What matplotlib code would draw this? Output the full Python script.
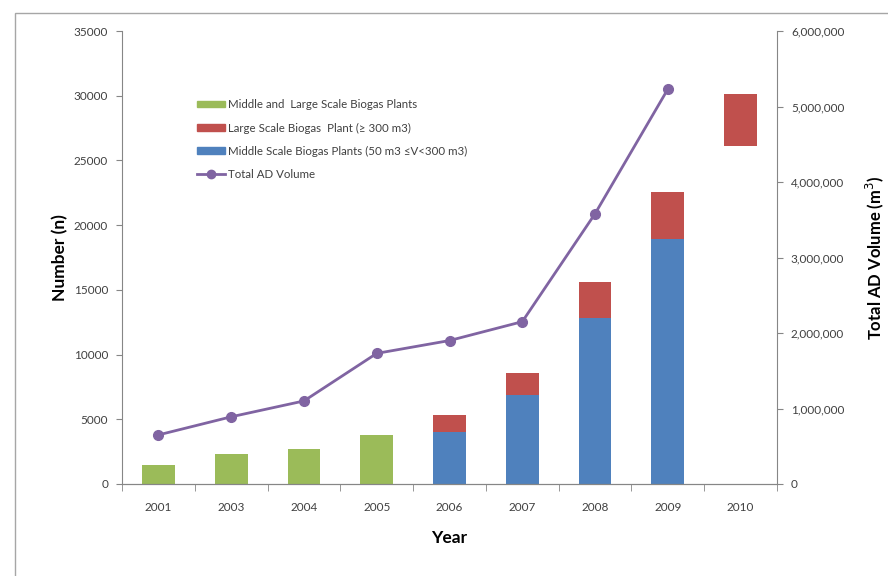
import numpy as np
import matplotlib
matplotlib.use("Agg")
import matplotlib.pyplot as plt
from matplotlib.ticker import FuncFormatter, FixedLocator
from matplotlib.patches import Rectangle
from matplotlib.lines import Line2D

plt.rcParams['font.family'] = ['Lato', 'DejaVu Sans']

years = ["2001", "2003", "2004", "2005", "2006", "2007", "2008", "2009", "2010"]
mid_large = [1490, 2350, 2680, 3750, 0, 0, 0, 0, 0]
middle = [0, 0, 0, 0, 4050, 6880, 12850, 18930, 0]
large = [0, 0, 0, 0, 1250, 1680, 2780, 3630, 4020]
base_2010 = [0, 0, 0, 0, 0, 0, 0, 0, 26120]  # hidden base under the 2010 bar
volume = [650000, 890000, 1100000, 1730000, 1900000, 2150000, 3580000, 5230000, np.nan]

green = "#9BBB59"
red = "#C0504D"
blue = "#4F81BD"
purple = "#8064A2"
grey = "#868686"
txt = "#404040"

fig = plt.figure(figsize=(8.88, 5.76), dpi=100)
fig.patches.append(Rectangle((15 / 888, -0.1), 2, 1 - 13 / 576 + 0.1, transform=fig.transFigure,
                             fill=False, edgecolor="#a6a6a6", linewidth=1.0))
ax = fig.add_axes([122 / 888, 1 - 484 / 576, 655 / 888, 453 / 576])
ax2 = ax.twinx()

x = np.arange(len(years))
w = 0.45
bottom_mid = np.array(base_2010)
ax.bar(x, mid_large, w, color=green, zorder=2)
ax.bar(x, middle, w, color=blue, zorder=2)
ax.bar(x, large, w, bottom=np.array(middle) + bottom_mid, color=red, zorder=2)

ax2.plot(x, volume, color=purple, lw=2, marker="o", ms=7, zorder=3)
ax.set_zorder(ax2.get_zorder() - 1)
ax.patch.set_visible(False)
ax2.patch.set_visible(False)

ax.set_xlim(-0.5, len(years) - 0.5)
ax.set_ylim(0, 35000)
ax2.set_ylim(0, 6000000)
ax.set_yticks(np.arange(0, 35001, 5000))
ax2.set_yticks(np.arange(0, 6000001, 1000000))
ax2.yaxis.set_major_formatter(FuncFormatter(lambda v, p: f"{int(v):,}"))

ax.set_xticks(x)
ax.set_xticklabels(years)
ax.xaxis.set_minor_locator(FixedLocator(np.arange(-0.5, len(years), 1.0)))
ax.tick_params(axis="x", which="major", length=0, pad=13, labelsize=8.5, labelcolor=txt)
ax.tick_params(axis="x", which="minor", length=5, color=grey, direction="out")
ax.tick_params(axis="y", length=4, color=grey, labelsize=8.5, labelcolor=txt, pad=6)
ax2.tick_params(axis="y", length=4, color=grey, labelsize=8.5, labelcolor=txt, pad=6)

for a in (ax, ax2):
    a.spines["top"].set_visible(False)
    for s in ("left", "right", "bottom"):
        a.spines[s].set_color(grey)
ax.spines["right"].set_visible(False)
ax2.spines["left"].set_visible(False)

ax.set_xlabel("Year", fontsize=12.5, fontweight="bold", color="black", labelpad=12)
ax.set_ylabel("Number (n)", fontsize=12.5, fontweight="bold", color="black", labelpad=4)
ax2.set_ylabel("Total AD Volume (m$^3$)", fontsize=12, fontweight="bold", color="black", labelpad=14)

handles = [
    Rectangle((0, 0), 1, 1, color=green),
    Rectangle((0, 0), 1, 1, color=red),
    Rectangle((0, 0), 1, 1, color=blue),
    Line2D([], [], color=purple, lw=2, marker="o", ms=6),
]
labels = [
    "Middle and  Large Scale Biogas Plants",
    "Large Scale Biogas  Plant (\u2265 300 m3)",
    "Middle Scale Biogas Plants (50 m3 \u2264V<300 m3)",
    "Total AD Volume",
]
leg = fig.legend(handles, labels, loc="upper left", bbox_to_anchor=(187 / 888, 1 - 89 / 576),
                 frameon=False, fontsize=8.3, handlelength=2.4, handleheight=0.45,
                 labelspacing=1.05, handletextpad=0.3, labelcolor=txt)

fig.savefig("out.png", dpi=100)
